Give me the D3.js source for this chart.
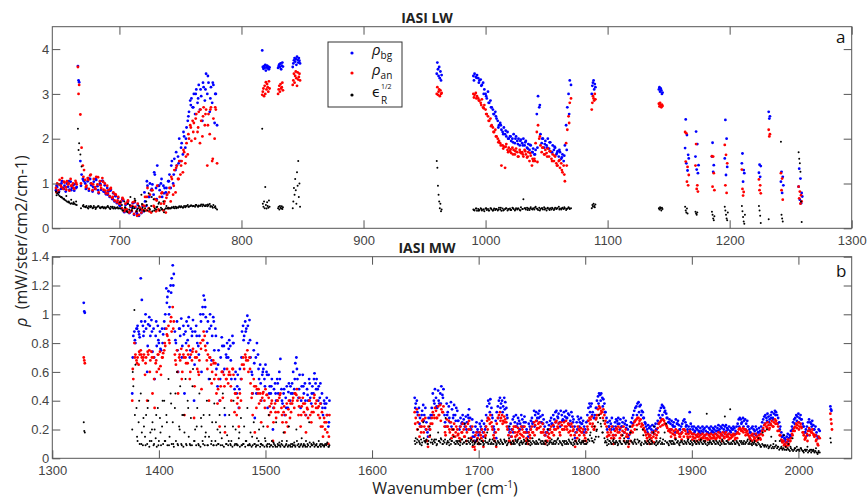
<!DOCTYPE html>
<html>
<head>
<meta charset="utf-8">
<script src="https://cdn.jsdelivr.net/npm/d3@7"></script>
<style>
  body { margin: 0; background: #fff; }
  svg { font-family: "Open Sans", "Noto Sans", sans-serif; }
</style>
</head>
<body>
<div id="grafico"></div>
<script>
// Segmentos: [número de onda inicial, passo (cm-1), valores x100]

// IASI LW
const lwXDominio = [645, 1300];
const lwYDominio = [0, 4.5];
const lwXTicks = [700, 800, 900, 1000, 1100, 1200, 1300];
const lwYTicks = [0, 1, 2, 3, 4];

const lwBg = [
  [648, 1, [85,92,80,98,88,105,90,95,82,100,93,86,104,90,96,84,99,92]],
  [666, 1, [362,326,150,120,110,105]],
  [672, 1, [100,90,105,84,110,96,82,104,88,108,94,78,100,86,106,82,96,76,90,
            82,70,86,66,78,60,72,56,68,52,
            58,44,62,36,52,40,60,34,48,38,56,30,46,36,52,28,44,34,50,38]],
  [721, 1, [60,50,95,70,100,85,98,75,120,90,140,95,85,100,70,95,90,80,75,105,
            120,90,150,100,155,130,140,160,200,150,
            190,165,205,180,225,240,260,285,290,270,
            300,255,310,280,320,265,295,240,315,285,
            345,300,325,260,315,280,320,235,300,230]],
  [648.5, 2, [95,82,100,88,92,105,85,98,90,
              330,
              95,108,88,112,100,92,110,85,98,105,80,
              75,84,65,72,58,
              50,65,40,55,35,48,58,32,45,40,
              80,105,70,88,125,65,95,110,78,90,
              105,140,120,170,145,
              180,215,200,250,275,
              270,300,290,310,325,
              310,340,290,325,300]],
  [817, 0.5, [397,360,356,362,358,365,352,360,363,357,361,355,359]],
  [830, 0.5, [358,362,366,360,368,355,363,370,361]],
  [842, 0.5, [360,368,375,380,372,378,365,383,376,370,380,374,368]],
  [960, 0.5, [345,370,355,340,360,335,350,330,342]],
  [990, 1, [340,345,338,342,335,330,332,320,325,310,
            300,290,305,280,285,270,265,255,260,245,
            240,230,235,220,215,225,210,205,215,200,
            205,195,200,210,190,205,195,200,185,198,
            190,200,185,195,180,188,175,185,170,178,
            165,175,255,295,270,210,190,200,180,195,
            185,200,178,192,170,185,175,180,165,172,
            160,170,155,165,150,185,230,270,300,330,
            320]],
  [990.5, 2, [330,336,325,318,300,295,280,270,255,250,
              225,230,210,218,200,205,192,200,188,195,
              185,192,178,186,170,165,180,275,200,188,
              180,192,170,182,168,175,158,162,175,255]],
  [1087, 0.5, [300,318,325,330,310,322,315]],
  [1142, 0.5, [310,315,305,312,308,300,303]],
  [1163.5, 0.5, [179,243,145,208,129,164,156]],
  [1172, 0.5, [160,216,131,188,123,141]],
  [1185.5, 0.5, [160,191,126,141]],
  [1196, 0.5, [156,242,119,200,137]],
  [1210, 0.5, [145,167,104,130,123]],
  [1224, 0.5, [124,142,115,139]],
  [1232, 0.5, [260,245,250]],
  [1242, 0.5, [104,126,79,115,96]],
  [1256.5, 0.5, [93,133,64,111,56,79,71]]
];

const lwAn = [
  [648, 1, [90,100,85,108,95,112,88,102,92,105,98,84,110,95,100,88,106,98]],
  [666, 1, [360,320,254,180,140,130]],
  [672, 1, [108,95,112,88,118,100,85,110,92,115,98,80,105,90,112,86,100,78,95,
            85,72,90,68,80,62,75,58,70,55,
            60,45,65,38,55,42,62,35,50,40,58,32,48,38,55,30,45,35,52,40]],
  [721, 1, [70,40,90,45,75,35,85,50,65,38,95,42,70,55,80,40,60,35,75,45,
            90,60,110,75,130,80,140,110,150,120,
            150,125,170,145,190,165,200,230,195,240,
            235,200,255,215,260,190,240,205,270,230,
            265,140,255,210,270,150,245,200,265,145]],
  [648.5, 2, [80,98,92,104,86,100,95,90,102,
              300,
              100,115,92,108,120,98,88,114,96,104,84,
              78,88,70,76,62,
              55,68,42,58,38,50,60,28,46,42,
              50,70,38,85,48,62,40,78,55,68,
              80,115,95,135,110,
              140,175,160,210,225,
              215,245,225,265,250,
              255,230,265,155,270]],
  [817, 0.5, [298,305,312,295,318,300,326,310,322,315,305,328,312]],
  [830, 0.5, [300,310,318,305,322,312,315,325,308]],
  [842, 0.5, [320,330,345,325,340,350,335,318,348,332,338,345,330]],
  [960, 0.5, [300,315,298,305,310,295,308,300,302]],
  [990, 1, [300,298,302,295,290,285,280,288,270,275,
            265,255,250,240,245,230,225,215,220,205,
            200,195,190,140,185,182,135,188,175,180,
            172,168,180,175,165,178,170,160,175,168,
            170,160,175,165,158,170,150,162,140,150,
            155,190,215,230,200,185,170,180,165,175,
            168,178,160,172,155,165,150,160,145,140,
            150,135,145,125,140,105,190,220,250,280,
            290]],
  [990.5, 2, [292,290,285,275,268,255,240,228,215,205,
              192,185,178,182,170,176,165,172,160,170,
              165,172,160,168,155,150,148,205,180,165,
              160,172,150,162,140,152,130,120,140,235]],
  [1087, 0.5, [265,280,295,290,285,300,288]],
  [1142, 0.5, [278,272,280,275,270,276,273]],
  [1163.5, 0.5, [215,149,212,104,137,96,119]],
  [1172, 0.5, [140,188,88,96,82]],
  [1185.5, 0.5, [161,93,160,123,85]],
  [1196, 0.5, [186,96,164,79,145]],
  [1210, 0.5, [131,88,73,81]],
  [1224, 0.5, [109,85,96,78]],
  [1232, 0.5, [220,205,210]],
  [1242, 0.5, [123,85,111,64]],
  [1256.5, 0.5, [93,67,82,55,74,60]]
];

const lwEps = [
  [648, 1, [82,78,75,72,70,68,66,64,62,60,58,57,55,56,54,55,53,52]],
  [666, 1, [222,190,165,138,50,48]],
  [672, 1, [48,50,46,49,47,48,45,50,47,46,48,49,46,47,48,45,47,46,48,
            47,45,48,46,44,47,45,46,44,45,
            44,52,40,60,46,38,55,42,70,40,48,45,62,38,44,50,42,75,46,40]],
  [721, 1, [45,60,40,78,42,50,38,65,44,42,48,55,40,46,43,60,42,45,44,46,
            45,44,47,46,45,48,47,46,49,47,
            48,46,50,47,49,52,48,50,51,49,
            50,48,52,49,51,50,53,49,52,50,
            52,49,51,54,50,48,52,47,45,42]],
  [648.5, 2, [74,80,70,66,72,60,64,58,60,
              175,
              45,52,47,44,50,46,43,49,45,47,44,
              50,43,48,44,47,
              58,40,47,36,52,44,66,42,39,54,
              38,52,44,70,40,47,58,42,36,50,
              44,46,48,45,47,
              49,47,50,48,51,
              50,52,48,51,53,
              50,53,48,46,49]],
  [817, 0.5, [222,55,48,60,45,92,52,44,58,50,46,62,48]],
  [830, 0.5, [45,48,42,50,46,44,49,43,47]],
  [842, 0.5, [45,60,90,75,110,85,55,125,95,150,70,100,48]],
  [960, 0.5, [150,135,95,75,60,45,55,38,42]],
  [990, 1, [42,40,44,39,43,41,45,40,42,38,
            44,41,43,40,45,42,39,44,41,43,
            40,46,42,39,44,41,43,45,40,42,
            44,41,46,43,40,45,42,44,41,47,
            43,65,45,42,46,44,41,47,43,45,
            42,48,44,41,46,43,45,42,47,44,
            40,46,43,45,42,44,41,46,43,45,
            48,44,42,46,43,45,41,44,47,43,
            45]],
  [990.5, 2, [41,44,39,43,42,45,40,44,41,43,
              42,46,40,44,43,41,45,42,44,40,
              43,45,41,44,42,46,43,40,45,42,
              44,41,46,43,45,42,44,47,43,45]],
  [1087, 0.5, [45,52,48,55,50,47,53]],
  [1142, 0.5, [45,42,47,44,40,46,43]],
  [1163.5, 0.5, [48,40,35,44,33]],
  [1172, 0.5, [37,33,30,35]],
  [1185.5, 0.5, [37,30,22,18,27]],
  [1196, 0.5, [48,40,30,22,18,35]],
  [1210, 0.5, [50,38,25,15,10,30]],
  [1224, 0.5, [50,40,28,12]],
  [1232, 0.5, [20]],
  [1242, 0.5, [193,30,22,15]],
  [1256.5, 0.5, [170,155,145,126,60,14]]
];

// IASI MW
const mwXDominio = [1300, 2050];
const mwYDominio = [0, 1.4];
const mwXTicks = [1300, 1400, 1500, 1600, 1700, 1800, 1900, 2000];
const mwYTicks = [0, 0.2, 0.4, 0.6, 0.8, 1, 1.2, 1.4];

const mwBg = [
  [1329.5, 0.5, [108,102,101]],
  [1375, 1, [45,85,88,80,90,92,88,84,125,110,
             92,88,95,90,60,93,98,85,96,74,
             90,55,85,78,92,80,88,75,90,86,
             95,100,118,112,116,105,120,125,134,128,
             88,80,95,60,90,85,97,78,92,45,
             88,95,82,98,70,90,85,96,40,88,
             92,80,78,85,100,60,105,113,110,98,
             88,95,55,100,92,85,98,75,90,62,
             50,75,40,70,84,60,78,30,72,80,
             70,82,78,55,85,80,48,60,45,58,
             35,62,55,88,92,85,95,90,99,80,
             96,70,60,45,75,28,70,80,72,55,
             65,40,58,62,55,65,60,35,58,50,
             45,55,20,48,52,40,55,45,60,69,
             48,38,45,30,42,50,35,52,40,45,
             52,60,48,66,70,55,42,58,35,50,
             58,45,52,30,48,40,55,42,38,50,
             45,59,52,55,48,50,42,38,45,30,
             40,35,38,30,22,40]],
  [1375.5, 2, [70,82,90,86,95, 85,100,78,92,88, 70,95,82,76,80,
               90,108,100,115,120, 82,75,90,70,86, 80,92,75,88,65,
               85,72,95,100,105, 80,90,68,95,85, 65,55,78,62,70,
               76,68,80,55,50, 48,70,82,88,92, 82,58,66,45,62,
               52,60,50,58,45, 50,35,45,52,55, 40,48,35,46,50,
               45,55,62,48,40, 50,40,44,52,45, 55,48,40,52,35,
               38,42,25]],
  [1640, 1, [42,38,40,30,35,28,22,33,37,30,
             35,25,18,28,20,30,35,45,40,48,
             42,35,47,38,45,50,44,48,30,22,
             38,32,36,25,39,34,28,37,30,35,
             33,26,20,28,24,30,27,22,29,25,
             30,34,28,20,27,18,15,22,25,20,
             16,24,22,26,18,24,20,30,36,40,
             38,41,35,28,22,18,26,32,36,40,
             42,38,40,36,42,39,35,28,22,18,
             24,20,27,29,25,30,22,28,26,24,
             30,27,22,29,25,20,18,24,22,26,
             28,25,33,30,32,28,31,33,29,25,
             30,27,22,18,25,20,23,26,28,24,
             30,27,32,33,29,31,25,33,30,27,
             32,29,33,28,31,30,26,32,29,27,
             22,18,25,29,27,25,28,24,26,22,
             20,25,30,35,38,36,38,32,28,30,
             35,40,43,45,44,45,42,41,38,32,
             28,25,22,26,24,28,22,20,25,27,
             26,28,24,27,22,25,28,24,26,23,
             20,16,22,25,28,30,33,35,36,38,
             39,36,37,33,32,28,25,22,20,23,
             21,22,20,23,19,22,24,20,26,30,
             33,35,37,36,35,33,31,28,25,27,
             24,26,23,25,22,27,24,26,23,20,
             22,24,26,27,25,23,20,22,32,24,
             22,20,22,19,21,20,22,18,21,19,
             22,20,21,19,22,18,21,20,22,19,
             21,20,22,19,21,23,20,22,21,23,
             20,22,23,21,20,22,19,21,20,22,
             21,19,22,24,27,28,27,25,28,26,
             27,24,26,22,20,18,21,22,20,19,
             22,20,18,21,19,22,25,27,29,30,
             28,31,29,27,30,32,28,31,33,32,
             30,28,25,22,18,15,16,14,13,15,
             17,14,16,19,22,25,27,28,30,29,
             31,28,30,27,24,22,18,20,22,25,
             27,25,24,26,23,20,22,18,15,20,
             19]],
  [1640.5, 2, [35,32,24,30,26,20,15,28,30,38,
               36,40,38,42,25,30,28,22,30,26,
               26,22,25,24,20,28,22,15,12,18,
               18,20,15,22,28,32,30,20,14,28,
               35,32,34,30,20,15,18,22,24,20,
               22,25,18,15,20,24,22,26,28,25,
               24,16,18,20,24,22,25,28,22,26,
               26,28,24,22,25,14,20,22,24,18,
               18,26,32,30,28,35,38,40,36,32,
               20,22,20,16,22,24,20,22,18,21,
               14,18,24,26,30,32,30,28,24,18,
               16,18,17,20,24,28,30,32,28,25,
               20,22,18,24,20,18,20,22,18,20,
               17,18,16,19,17,18,16,18,17,18,
               18,17,19,18,16,18,19,17,18,20,
               17,18,22,24,22,20,22,18,16,17,
               16,18,17,20,24,26,25,28,27,30,
               24,20,15,12,11,12,15,20,24,26,
               25,27,22,18,16,20,22,20,16,14]],
  [2030, 0.5, [36,34,33]]
];

const mwAn = [
  [1329.5, 0.5, [70,68,66]],
  [1375, 1, [40,55,80,72,68,70,65,72,75,70,
             68,72,58,70,40,72,75,68,74,45,
             70,35,66,60,72,62,74,58,70,73,
             75,78,90,85,92,80,95,88,105,95,
             72,65,75,45,70,68,76,60,72,30,
             70,75,66,78,55,72,68,76,28,70,
             74,62,60,68,80,48,82,88,85,75,
             68,72,40,70,65,60,68,55,66,45,
             38,55,22,50,60,42,58,18,55,62,
             52,60,58,40,62,58,32,45,30,42,
             22,45,40,65,70,62,72,68,75,60,
             70,52,42,30,55,18,50,48,45,38,
             45,25,42,46,40,48,44,22,42,36,
             32,40,12,35,38,28,40,32,42,45,
             35,25,32,18,30,38,22,40,28,32,
             38,42,35,45,44,40,30,42,22,36,
             42,32,38,18,35,28,40,30,25,36,
             32,44,38,40,35,36,28,22,32,15,
             28,20,25,18,10,30]],
  [1375.5, 2, [62,70,66,74,72, 70,66,74,60,70, 55,68,72,64,70,
               80,86,82,98,90, 68,60,72,55,70, 66,72,60,74,50,
               70,58,76,82,78, 62,70,52,66,58, 48,40,60,50,55,
               58,50,62,45,38, 35,55,65,70,68, 62,45,50,35,48,
               40,45,35,44,30, 38,25,32,40,44, 30,36,25,34,38,
               40,45,48,36,30, 38,30,34,40,32, 42,35,30,38,22,
               25,30,15]],
  [1640, 1, [32,28,34,25,30,22,18,26,27,22,
             28,20,12,22,15,24,28,32,30,35,
             33,28,36,30,37,34,32,36,22,16,
             27,22,26,18,25,20,16,24,15,22,
             20,17,14,22,18,24,20,15,22,18,
             24,26,20,14,22,12,8,16,18,14,
             10,18,16,20,12,18,15,22,26,28,
             27,30,25,20,16,12,18,24,28,30,
             32,28,30,26,29,27,25,20,16,12,
             18,15,20,22,18,22,16,21,19,17,
             22,20,15,22,18,14,12,18,16,20,
             22,18,25,23,26,21,24,25,22,18,
             24,20,16,12,18,15,17,20,22,18,
             23,20,25,26,22,24,18,25,23,20,
             25,22,26,20,24,23,19,24,22,20,
             16,12,18,22,20,19,21,18,20,16,
             14,18,22,26,28,27,29,24,20,22,
             27,30,34,36,35,33,32,34,30,26,
             22,18,16,20,18,22,16,14,19,21,
             20,22,18,21,16,19,22,18,20,17,
             15,10,17,19,22,23,25,26,27,28,
             28,26,27,24,23,21,19,16,14,17,
             15,16,14,18,15,17,19,16,21,24,
             25,26,27,27,26,24,23,21,19,20,
             18,20,17,19,16,20,18,19,17,15,
             17,18,20,20,19,17,15,17,19,18,
             17,15,17,14,16,15,17,13,16,14,
             17,15,16,14,17,13,16,15,17,14,
             16,15,17,14,16,18,15,17,16,18,
             15,17,18,16,15,17,14,16,15,17,
             16,14,17,18,20,21,20,19,21,20,
             20,18,19,16,15,13,16,17,15,14,
             17,15,13,16,14,17,19,21,23,24,
             22,25,23,21,24,26,22,25,27,26,
             24,22,19,16,13,11,12,10,9,11,
             13,10,12,14,17,19,21,22,24,23,
             25,22,24,21,18,16,13,15,17,19,
             21,19,18,20,17,15,16,13,10,15,
             14]],
  [1640.5, 2, [24,20,15,22,18,12,8,20,24,28,
               28,30,26,32,18,22,20,14,20,18,
               16,12,18,15,12,20,14,8,6,12,
               10,14,8,16,20,24,22,14,8,20,
               26,24,25,22,12,10,12,15,18,14,
               16,18,12,10,14,18,16,20,21,18,
               18,10,12,14,18,16,20,21,16,20,
               20,22,18,16,19,8,14,16,18,12,
               12,20,24,22,20,28,30,31,28,24,
               15,16,14,10,16,18,14,16,12,15,
               8,12,18,20,23,24,22,20,18,12,
               10,12,11,14,18,22,23,24,22,19,
               15,17,14,18,15,13,15,17,14,15,
               13,14,12,15,13,14,12,14,13,14,
               14,13,15,14,12,14,15,13,14,16,
               13,14,17,19,18,16,17,14,12,13,
               12,14,13,16,19,21,20,23,22,24,
               19,16,12,9,8,9,12,16,19,21,
               20,22,18,14,12,16,18,16,12,9]],
  [2030, 0.5, [31,27,24,20]]
];

const mwEps = [
  [1329.5, 0.5, [25,19,18]],
  [1375, 1, [20,50,103,65,35,12,25,10,45,18,
             9,22,15,30,10,40,8,18,12,25,
             9,20,14,8,35,12,28,9,22,10,
             40,12,30,9,55,15,45,10,25,8,
             35,12,60,9,22,50,10,30,8,18,
             55,9,40,15,10,28,9,62,12,20,
             9,35,10,45,8,22,12,30,9,18,
             40,9,15,55,10,25,9,38,12,9,
             20,10,30,9,14,45,8,22,10,16,
             9,30,10,12,8,40,9,20,10,9,
             14,8,28,9,10,22,8,12,35,9,
             10,18,8,9,25,10,8,14,9,20,
             8,10,9,22,8,12,9,10,30,8,
             9,12,8,10,9,25,8,9,11,8,
             10,9,18,8,9,12,8,22,9,10,
             8,9,11,8,20,9,10,8,9,14,
             8,10,9,12,8,9,25,8,10,9,
             11,8,9,10,8,12,9,8,10,9,
             8,10,9,11,8,9]],
  [1375.5, 2, [60,30,15,40,10, 28,9,35,12,20, 10,30,9,18,40,
               12,25,9,38,10, 45,10,20,9,30, 10,35,9,50,12,
               22,9,28,10,15, 9,30,12,9,25, 10,18,9,35,10,
               12,9,22,10,9, 18,9,10,12,9, 9,15,10,9,12,
               10,9,14,8,10, 9,11,8,10,9, 12,8,10,9,8,
               10,9,12,8,10, 9,8,10,11,9, 10,9,8,10,9,
               9,10,8]],
  [1640, 1, [12,14,11,20,12,10,13,11,25,12,
             11,13,10,12,22,11,13,10,12,11,
             13,10,18,12,11,13,10,12,11,28,
             10,12,11,13,10,12,20,11,10,12,
             11,10,12,11,13,10,11,24,12,10,
             12,11,10,13,11,12,10,11,12,10,
             11,13,10,12,11,10,12,11,18,10,
             12,10,11,13,10,12,11,10,12,11,
             10,12,11,10,13,11,12,10,11,22,
             11,10,12,11,10,12,11,13,10,11,
             12,10,11,12,10,11,13,10,12,11,
             10,12,11,10,12,11,10,13,11,10,
             12,11,10,12,11,20,10,12,11,10,
             11,12,10,11,13,10,12,11,10,12,
             11,10,12,11,10,12,11,10,13,11,
             10,12,11,10,12,11,10,12,11,10,
             12,10,11,13,12,18,14,12,11,13,
             15,20,25,30,28,22,18,26,14,12,
             11,13,10,12,11,10,12,11,10,12,
             11,10,12,11,10,16,12,11,10,12,
             11,10,22,12,11,10,12,11,10,13,
             11,12,10,11,20,10,12,11,10,12,
             11,10,12,11,18,10,11,12,10,11,
             12,10,11,13,10,12,24,11,10,12,
             11,10,12,11,10,13,11,12,10,11,
             12,11,10,12,11,10,12,11,10,12,
             11,10,12,11,10,12,11,10,12,11,
             10,12,11,10,31,11,10,12,11,10,
             12,11,10,12,11,10,12,11,10,12,
             11,29,10,12,11,10,34,11,10,12,
             11,10,12,11,10,12,11,10,11,12,
             10,11,12,10,11,12,10,11,10,12,
             10,9,11,10,9,8,10,9,8,9,
             8,9,7,8,9,7,8,7,8,9,
             7,8,6,7,8,6,7,6,8,6,
             7,6,5,7,6,5,6,7,5,6,
             6,5,7,6,5,4,6,5,6,4,
             5,6,4,5,6,4,5,4,3,5,
             4]],
  [1640.5, 2, [10,13,11,9,14,12,10,16,11,13,
               9,12,14,10,13,11,9,12,15,10,
               12,9,13,11,10,14,12,9,11,13,
               10,12,9,14,11,13,10,12,9,11,
               13,10,12,9,14,11,10,13,12,9,
               11,13,10,12,9,14,11,10,13,12,
               10,12,9,11,13,10,12,14,11,9,
               12,10,13,11,9,12,10,13,11,12,
               10,13,16,12,22,19,15,24,18,11,
               9,12,10,13,11,9,12,10,14,11,
               12,18,11,13,20,12,9,16,11,10,
               13,10,22,9,11,14,10,18,11,9,
               12,10,13,11,9,12,10,11,13,10,
               9,12,10,11,13,10,12,9,11,10,
               12,10,11,9,13,10,12,11,10,12,
               10,11,9,12,10,11,13,10,9,11,
               9,14,8,18,9,20,8,15,10,12,
               8,12,7,16,6,10,8,14,7,8,
               6,7,5,6,8,5,6,5,7,4]],
  [2030, 0.5, [14,11]]
];

// Legenda
const nomesSeries = ["bg", "an", "R"];

// ---------------------------------------------------------------
const largura = 867, altura = 498;
const esq = 52.3, dir = 851.7;
const cores = ["#0000ff", "#ff0000", "#000000"];
const raios = [1.4, 1.4, 1.0];
const corEixo = "#555";
const corTexto = "#444";

function pontos(segs) {
  return segs.flatMap(([x0, dx, vals]) =>
    vals.map((v, i) => ({ x: x0 + i * dx, y: v / 100 })));
}

const paineis = [
  { titulo: "IASI LW", letra: "a", topo: 26.7, base: 228.3, tituloY: 22.5, letraY: 43,
    xDom: lwXDominio, yDom: lwYDominio, xTicks: lwXTicks, yTicks: lwYTicks,
    series: [lwBg, lwAn, lwEps] },
  { titulo: "IASI MW", letra: "b", topo: 256.7, base: 458.3, tituloY: 252.5, letraY: 277,
    xDom: mwXDominio, yDom: mwYDominio, xTicks: mwXTicks, yTicks: mwYTicks,
    series: [mwBg, mwAn, mwEps] }
];

const svg = d3.select("#grafico")
  .append("svg")
  .attr("width", largura)
  .attr("height", altura);

function estilizarEixo(g) {
  g.select(".domain").remove();
  g.selectAll(".tick line").attr("stroke", corEixo);
  g.selectAll(".tick text").attr("fill", corTexto).style("font-size", "13px");
}

function montarPainel(p, idx) {
  const x = d3.scaleLinear().domain(p.xDom).range([esq, dir]);
  const y = d3.scaleLinear().domain(p.yDom).range([p.base, p.topo]);

  //Pontos (recortados na área do gráfico)
  const clipId = `recorte-${idx}`;
  svg.append("clipPath").attr("id", clipId)
    .append("rect")
    .attr("x", esq).attr("y", p.topo)
    .attr("width", dir - esq).attr("height", p.base - p.topo);

  const g = svg.append("g").attr("clip-path", `url(#${clipId})`);
  p.series.forEach((s, i) => {
    g.append("g")
      .selectAll("circle")
      .data(pontos(s))
      .join("circle")
      .attr("cx", d => x(d.x))
      .attr("cy", d => y(d.y))
      .attr("r", raios[i])
      .attr("fill", cores[i]);
  });

  //Eixos (ticks para dentro, nos quatro lados)
  svg.append("g")
    .attr("transform", `translate(0,${p.base})`)
    .call(d3.axisBottom(x).tickValues(p.xTicks).tickSize(-8).tickSizeOuter(0)
      .tickPadding(7).tickFormat(d3.format("d")))
    .call(estilizarEixo);

  svg.append("g")
    .attr("transform", `translate(0,${p.topo})`)
    .call(d3.axisTop(x).tickValues(p.xTicks).tickSize(-8).tickSizeOuter(0).tickFormat(""))
    .call(estilizarEixo);

  svg.append("g")
    .attr("transform", `translate(${esq},0)`)
    .call(d3.axisLeft(y).tickValues(p.yTicks).tickSize(-8).tickSizeOuter(0)
      .tickPadding(3).tickFormat(d3.format("~g")))
    .call(estilizarEixo);

  svg.append("g")
    .attr("transform", `translate(${dir},0)`)
    .call(d3.axisRight(y).tickValues(p.yTicks).tickSize(-8).tickSizeOuter(0).tickFormat(""))
    .call(estilizarEixo);

  //Moldura
  svg.append("rect")
    .attr("x", esq).attr("y", p.topo)
    .attr("width", dir - esq).attr("height", p.base - p.topo)
    .attr("fill", "none")
    .attr("stroke", corEixo)
    .attr("stroke-width", 1);

  //Título e letra do painel
  svg.append("text")
    .attr("x", 427)
    .attr("y", p.tituloY)
    .attr("text-anchor", "middle")
    .style("font-size", "14px")
    .style("font-weight", "bold")
    .attr("fill", "#222")
    .text(p.titulo);

  svg.append("text")
    .attr("x", 836)
    .attr("y", p.letraY)
    .style("font-size", "17px")
    .attr("fill", "#111")
    .text(p.letra);
}

paineis.forEach(montarPainel);

//Rótulos dos eixos
const rotY = svg.append("text")
  .attr("transform", "translate(27,241) rotate(-90)")
  .attr("text-anchor", "middle")
  .style("font-size", "16px")
  .attr("fill", "#222");
rotY.append("tspan").style("font-style", "italic").text("ρ");
rotY.append("tspan").attr("xml:space", "preserve").text("  (mW/ster/cm2/cm-1)");

const rotX = svg.append("text")
  .attr("x", 445)
  .attr("y", 494)
  .attr("text-anchor", "middle")
  .style("font-size", "16px")
  .attr("fill", "#222");
rotX.append("tspan").text("Wavenumber (cm");
rotX.append("tspan").attr("dy", -6).style("font-size", "10px").text("-1");
rotX.append("tspan").attr("dy", 6).text(")");

//Legenda
const leg = svg.append("g");
leg.append("rect")
  .attr("x", 328).attr("y", 42)
  .attr("width", 74).attr("height", 65)
  .attr("fill", "#fff")
  .attr("stroke", "#333")
  .attr("stroke-width", 1);

const legY = [53, 73, 95];
legY.forEach((yy, i) => {
  leg.append("circle")
    .attr("cx", 352).attr("cy", yy)
    .attr("r", 1.6)
    .attr("fill", cores[i]);
});

[0, 1].forEach(i => {
  const t = leg.append("text")
    .attr("x", 372).attr("y", legY[i] + 2)
    .style("font-size", "15px")
    .attr("fill", "#111");
  t.append("tspan").style("font-style", "italic").text("ρ");
  t.append("tspan").attr("dy", 4).style("font-size", "10px").text(nomesSeries[i]);
});

// ϵ com expoente 1/2 e índice R num único texto
const eps = leg.append("text")
  .attr("x", 372).attr("y", 97)
  .style("font-size", "14px")
  .attr("fill", "#111");
eps.append("tspan").style("font-family", "'DejaVu Sans', sans-serif").text("ϵ");
eps.append("tspan").attr("x", 381).attr("dy", -8).style("font-size", "7px").text("1/2");
eps.append("tspan").attr("x", 381).attr("dy", 15).style("font-size", "10px").text(nomesSeries[2]);
</script>
</body>
</html>
